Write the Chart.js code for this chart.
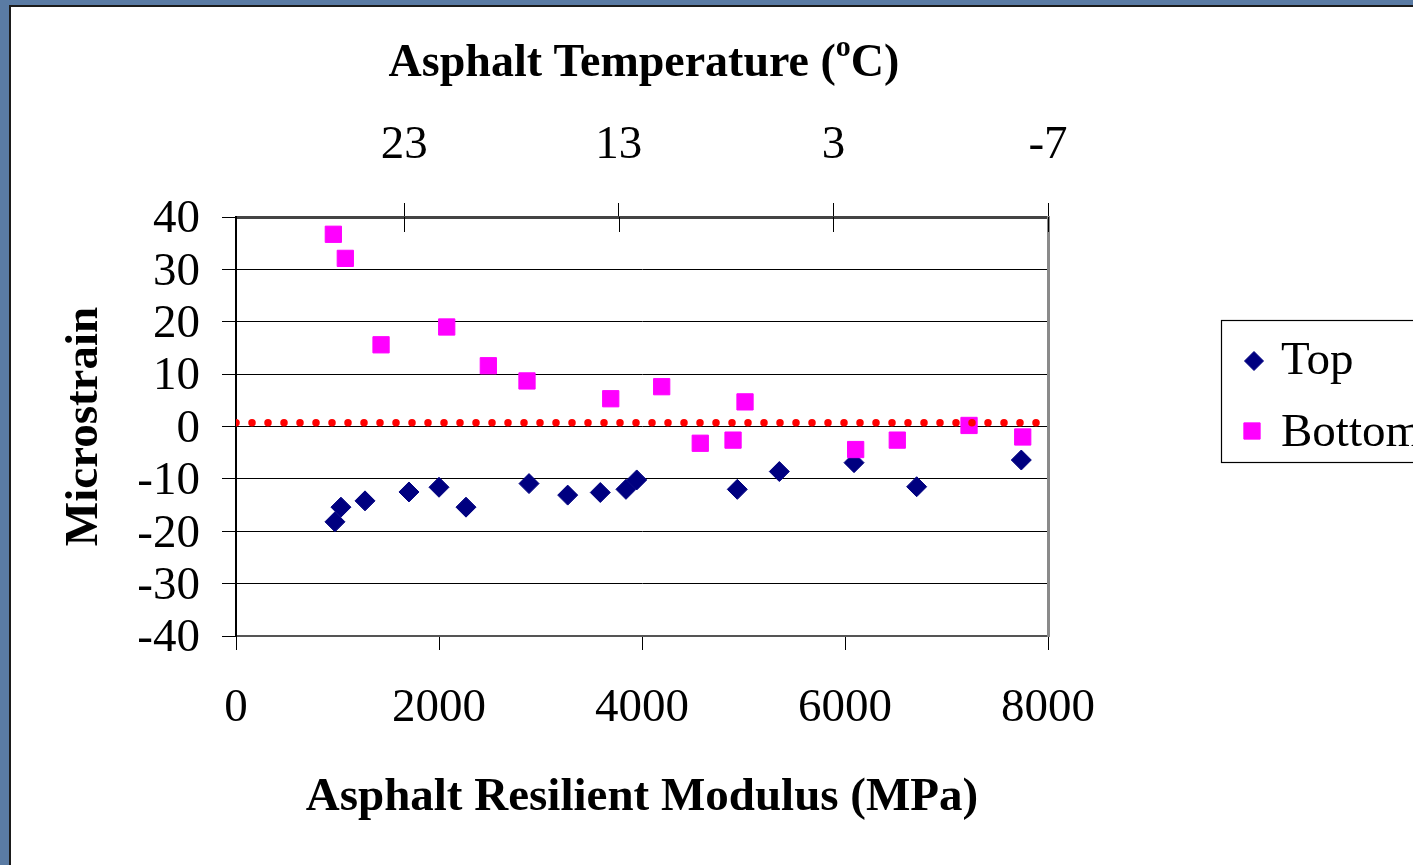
<!DOCTYPE html>
<html>
<head>
<meta charset="utf-8">
<title>Microstrain vs Asphalt Resilient Modulus</title>
<script src="https://cdn.jsdelivr.net/npm/chart.js@4.4.1/dist/chart.umd.min.js"></script>
<style>
  html, body { margin: 0; padding: 0; width: 1413px; height: 865px; overflow: hidden; background: #5a7ba4; }
  #panel { position: absolute; left: 9px; top: 5px; right: 0; bottom: 0; background: #fff;
           border-left: 2px solid #1b1b1b; border-top: 2px solid #1b1b1b; }
  #chart { position: absolute; left: 0; top: 0; }
</style>
</head>
<body>
<div id="panel"></div>
<canvas id="chart" width="1413" height="865"></canvas>
<script>
// Strain gauge readings (microstrain) against asphalt resilient modulus (MPa)
const topModulus    = [975, 1034, 1271, 1704, 2000, 2266, 2887, 3268, 3589, 3842, 3948, 4939, 5353, 6089, 6706, 7737];
const topStrain     = [-18.2, -15.4, -14.2, -12.5, -11.6, -15.4, -10.9, -13.1, -12.6, -12.0, -10.2, -12.0, -8.6, -6.9, -11.5, -6.4];
const bottomModulus = [959, 1077, 1429, 2076, 2486, 2867, 3692, 4194, 4574, 4897, 5015, 6105, 6515, 7222, 7751];
const bottomStrain  = [36.7, 32.1, 15.6, 19.0, 11.6, 8.7, 5.3, 7.6, -3.2, -2.6, 4.7, -4.4, -2.6, 0.2, -2.0];

// Horizontal reference line
const refModulus = [0, 8000];
const refStrain  = [0.7, 0.7];

// Axis ranges and ticks
const modulusRange = [0, 8000];
const modulusStep  = 2000;
const strainRange  = [-40, 40];
const strainStep   = 10;
const tempTicks    = [23, 13, 3, -7];
const tempRange    = [-7, 30.84];   // temperature at right and left ends of the modulus axis

const seriesNames = ['Top', 'Bottom'];

const FONT = '"Liberation Serif", "Times New Roman", Times, serif';
Chart.defaults.font.family = FONT;
Chart.defaults.color = '#000';

const toPoints = (xs, ys) => xs.map((x, i) => ({ x: x, y: ys[i] }));

// Tick marks of the temperature axis reach into the plot as well
const innerTempTicks = {
  id: 'innerTempTicks',
  afterDraw(chart) {
    const s = chart.scales.x2, ctx = chart.ctx, top = chart.chartArea.top;
    ctx.save();
    ctx.strokeStyle = '#000';
    ctx.lineWidth = 1;
    s.ticks.forEach(t => {
      const px = Math.round(s.getPixelForValue(t.value)) + 0.5;
      ctx.beginPath();
      ctx.moveTo(px, top);
      ctx.lineTo(px, top + 15);
      ctx.stroke();
    });
    ctx.restore();
  }
};

// Temperature axis title with a superscript "o"
const tempTitle = {
  id: 'tempTitle',
  afterDraw(chart) {
    const s = chart.scales.x2, ctx = chart.ctx;
    const big = 'bold 46px ' + FONT, small = 'bold 30px ' + FONT;
    const a = 'Asphalt Temperature (', o = 'o', b = 'C)';
    ctx.save();
    ctx.fillStyle = '#000';
    ctx.textBaseline = 'alphabetic';
    ctx.font = big;  const wa = ctx.measureText(a).width, wb = ctx.measureText(b).width;
    ctx.font = small; const wo = ctx.measureText(o).width;
    let x = (s.left + s.right) / 2 + 2 - (wa + wo + wb) / 2;
    const base = 76;
    ctx.font = big;  ctx.fillText(a, x, base); x += wa;
    ctx.font = small; ctx.fillText(o, x, base - 20); x += wo;
    ctx.font = big;  ctx.fillText(b, x, base);
    ctx.restore();
  }
};

// Boxed legend to the right of the plot
const boxLegend = {
  id: 'boxLegend',
  afterDraw(chart) {
    const ctx = chart.ctx;
    const box = { left: 1221, top: 320, width: 260, height: 142 };
    ctx.save();
    ctx.strokeStyle = '#000';
    ctx.lineWidth = 1.2;
    ctx.strokeRect(box.left + 0.5, box.top + 0.5, box.width, box.height);
    const rows = [
      { ds: chart.data.datasets[0], mx: 1254, y: 361, ty: 362, r: 9.5 },
      { ds: chart.data.datasets[1], mx: 1252, y: 431, ty: 434, r: 11.5 }
    ];
    rows.forEach(row => {
      ctx.fillStyle = row.ds.backgroundColor;
      ctx.strokeStyle = row.ds.borderColor;
      ctx.lineWidth = 1;
      Chart.helpers.drawPoint(ctx, { pointStyle: row.ds.pointStyle, radius: row.r, borderWidth: 1, rotation: 0 }, row.mx, row.y);
      ctx.fillStyle = '#000';
      ctx.font = '47px ' + FONT;
      ctx.textBaseline = 'middle';
      ctx.textAlign = 'left';
      ctx.fillText(row.ds.label, 1281, row.ty);
    });
    ctx.restore();
  }
};

new Chart(document.getElementById('chart'), {
  type: 'scatter',
  data: {
    datasets: [
      {
        label: seriesNames[0],
        data: toPoints(topModulus, topStrain),
        pointStyle: 'rectRot',
        pointRadius: 10,
        borderWidth: 1,
        backgroundColor: '#000080',
        borderColor: '#000080',
        order: 2
      },
      {
        label: seriesNames[1],
        data: toPoints(bottomModulus, bottomStrain),
        pointStyle: 'rect',
        pointRadius: 11.5,
        borderWidth: 1,
        backgroundColor: '#FF00FF',
        borderColor: '#FF00FF',
        order: 1
      },
      {
        label: 'reference',
        data: toPoints(refModulus, refStrain),
        showLine: true,
        pointRadius: 0,
        borderColor: '#FF0000',
        borderWidth: 7.5,
        borderDash: [0, 16],
        borderCapStyle: 'round',
        order: 0
      }
    ]
  },
  options: {
    responsive: false,
    animation: false,
    events: [],
    devicePixelRatio: 1,
    layout: { padding: { left: 0, right: 365, top: 0, bottom: 0 } },
    plugins: { legend: { display: false }, tooltip: { enabled: false } },
    scales: {
      x: {
        type: 'linear', position: 'bottom',
        min: modulusRange[0], max: modulusRange[1],
        ticks: { stepSize: modulusStep, color: '#000', font: { size: 47, lineHeight: 1 }, padding: 35,
                 maxRotation: 0, callback: v => String(v) },
        grid: { drawOnChartArea: false, color: '#000', lineWidth: 1, tickLength: 14 },
        border: { color: '#555', width: 2 },
        title: { display: true, text: 'Asphalt Resilient Modulus (MPa)', color: '#000',
                 font: { size: 47, weight: 'bold', lineHeight: 1 }, padding: { top: 0, bottom: 44 } },
        afterFit: s => { s.height = 229; }
      },
      x2: {
        type: 'linear', position: 'top', reverse: true,
        min: tempRange[0], max: tempRange[1],
        afterBuildTicks: s => { s.ticks = tempTicks.map(v => ({ value: v })); },
        ticks: { color: '#000', font: { size: 47, lineHeight: 1 }, padding: 34, autoSkip: false,
                 maxRotation: 0, callback: v => String(v) },
        grid: { drawOnChartArea: false, color: '#000', lineWidth: 1, tickLength: 14 },
        border: { color: '#444', width: 3 },
        afterFit: s => { s.height = 217; }
      },
      y: {
        type: 'linear', position: 'left',
        min: strainRange[0], max: strainRange[1],
        ticks: { stepSize: strainStep, color: '#000', font: { size: 47, lineHeight: 1 }, padding: 22,
                 labelOffset: 3, callback: v => String(v) },
        grid: { color: '#000', lineWidth: 1, tickLength: 14 },
        border: { color: '#000', width: 2 },
        title: { display: true, text: 'Microstrain', color: '#000',
                 font: { size: 47, weight: 'bold', lineHeight: 1 }, padding: { top: 61, bottom: 0 } },
        afterFit: s => { s.width = 236; }
      },
      y2: {
        type: 'linear', position: 'right',
        min: strainRange[0], max: strainRange[1],
        ticks: { display: false },
        grid: { drawOnChartArea: false, drawTicks: false },
        border: { color: '#8a8a8a', width: 3 },
        afterFit: s => { s.width = 0; }
      }
    }
  },
  plugins: [innerTempTicks, tempTitle, boxLegend]
});
</script>
</body>
</html>
